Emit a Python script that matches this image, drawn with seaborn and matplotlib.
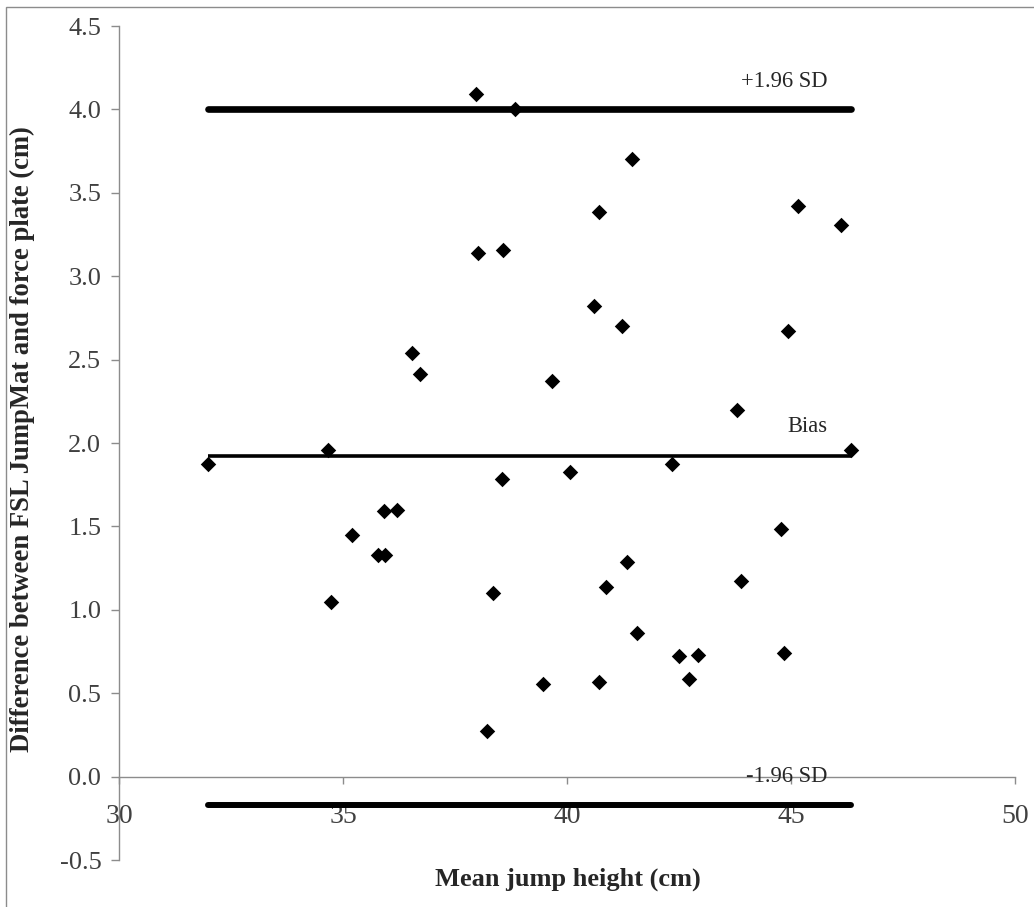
import numpy as np
import pandas as pd
import matplotlib
matplotlib.use('Agg')
import matplotlib.pyplot as plt
import seaborn as sns

sns.set_style('white')
plt.rcParams['font.family'] = ['Liberation Serif', 'DejaVu Serif']

# Bland-Altman data
mean_height = [31.98, 34.67, 34.73, 35.19, 35.77, 35.94, 35.92, 36.20, 36.53, 36.72,
               37.96, 38.00, 38.56, 38.84, 38.54, 38.34, 38.20, 39.45, 39.66, 40.07,
               40.59, 40.72, 40.71, 40.86, 41.22, 41.33, 41.44, 41.56, 42.35, 42.50,
               42.72, 42.93, 43.80, 43.88, 44.77, 44.83, 44.92, 45.15, 46.12, 46.34]
difference = [1.876, 1.96, 1.046, 1.446, 1.328, 1.328, 1.594, 1.60, 2.54, 2.416,
              4.09, 3.14, 3.16, 4.00, 1.786, 1.10, 0.274, 0.556, 2.37, 1.824,
              2.82, 3.386, 0.57, 1.134, 2.70, 1.284, 3.70, 0.86, 1.874, 0.724,
              0.584, 0.73, 2.20, 1.174, 1.484, 0.74, 2.67, 3.42, 3.305, 1.96]

bias = 1.92
upper_loa = 4.005
lower_loa = -0.17

df = pd.DataFrame({'mean': mean_height, 'diff': difference})

axis_grey = '#8c8c8c'
tick_grey = '#404040'

fig = plt.figure(figsize=(10.34, 9.07), dpi=100)
ax = fig.add_axes([0.1154, 0.0518, 0.8663, 0.9195])

# limits of agreement and bias span the data range
x0, x1 = df['mean'].min(), df['mean'].max()
ax.plot([x0, x1], [upper_loa, upper_loa], color='black', lw=4.8, solid_capstyle='round', zorder=2)
ax.plot([x0, x1], [bias, bias], color='black', lw=2.6, solid_capstyle='butt', zorder=2)
ax.plot([x0, x1], [lower_loa, lower_loa], color='black', lw=4.3, solid_capstyle='round', zorder=2)

sns.scatterplot(data=df, x='mean', y='diff', marker='D', s=62, color='black',
                linewidth=0, ax=ax, zorder=3)

ax.set_xlim(30, 50)
ax.set_ylim(-0.5, 4.5)
ax.set_xticks([30, 35, 40, 45, 50])
ax.set_yticks(np.arange(-0.5, 4.51, 0.5))
ax.set_yticklabels([f'{v:.1f}' for v in np.arange(-0.5, 4.51, 0.5)])

ax.spines['top'].set_visible(False)
ax.spines['right'].set_visible(False)
ax.spines['bottom'].set_position(('data', 0))
for s in ['left', 'bottom']:
    ax.spines[s].set_color(axis_grey)
    ax.spines[s].set_linewidth(1)

ax.tick_params(axis='y', direction='out', length=6, width=1, color=axis_grey,
               labelsize=19, labelcolor=tick_grey, pad=7, left=True)
ax.tick_params(axis='x', direction='out', length=5, width=1, color=axis_grey,
               labelsize=20, labelcolor=tick_grey, pad=15, bottom=True)

ax.set_xlabel('Mean jump height (cm)', fontsize=19, fontweight='bold')
ax.set_ylabel('Difference between FSL JumpMat and force plate (cm)', fontsize=19.2, fontweight='bold')
ax.xaxis.set_label_coords(0.501, -0.009)
ax.yaxis.set_label_coords(-0.094, 0.505)

ax.text(45.82, 4.17, '+1.96 SD', ha='right', va='center', fontsize=16.3)
ax.text(45.82, 2.10, 'Bias', ha='right', va='center', fontsize=16.3)
ax.text(45.82, 0.0, '-1.96 SD', ha='right', va='center', fontsize=16.3, zorder=4)

# outer chart border
fig.add_artist(plt.Rectangle((6 / 1034, -0.05), 1.1, 1.05 - 7 / 907, transform=fig.transFigure,
                             fill=False, edgecolor=axis_grey, lw=1))

fig.savefig('out.png', dpi=100)
